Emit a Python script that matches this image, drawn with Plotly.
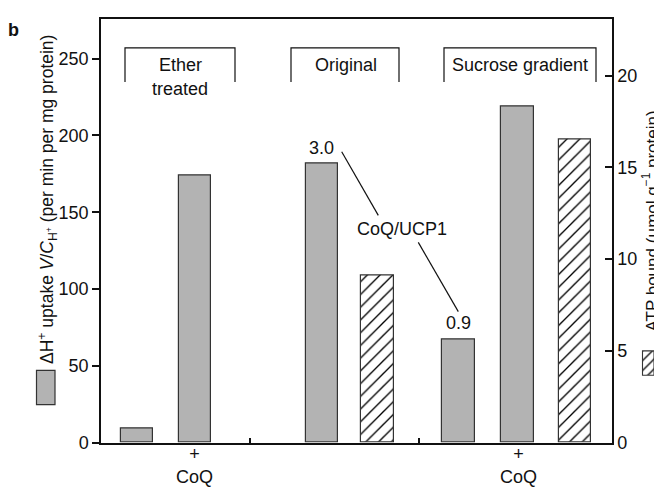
import plotly.graph_objects as go

# ---------------- data ----------------
uptake_labels = ["Ether −CoQ", "Ether +CoQ", "Original", "Sucrose −CoQ", "Sucrose +CoQ"]
uptake_values = [9.2, 174, 182, 67, 219]          # left axis
atp_labels = ["Original ATP", "Sucrose ATP"]
atp_values = [9.1, 16.5]                          # right axis
group_labels = ["Ether", "treated", "Original", "Sucrose gradient"]
ratio_labels = ["3.0", "CoQ/UCP1", "0.9"]
coq_labels = ["+", "CoQ"]
left_ticks = [0, 50, 100, 150, 200, 250]
right_ticks = [0, 5, 10, 15, 20]

# ---------------- layout helpers ----------------
XOFF = 8                         # horizontal page offset
W, H = 662 - XOFF, 488
def px(x):                       # screen pixel -> paper
    return (x - XOFF) / W
def py(y):
    return 1 - y / H

X0, X1 = 101, 612                # plot area in screen pixels
Y0, Y1 = 11.7, 443.7
bar_pos = {"Ether −CoQ": 36.2, "Ether +CoQ": 94, "Original": 221,
           "Original ATP": 276.7, "Sucrose −CoQ": 357.5,
           "Sucrose +CoQ": 416.5, "Sucrose ATP": 474}
BW = 32.5

INK = "#111111"
GRAY = "#b3b3b3"
FONT = "Liberation Sans, Arial, Helvetica, sans-serif"
FS = 18

fig = go.Figure()
fig.add_trace(go.Bar(
    x=[bar_pos[k] for k in uptake_labels], y=uptake_values, width=BW,
    marker=dict(color=GRAY, line=dict(color="#333333", width=1.2)),
    xaxis="x", yaxis="y", showlegend=False, hoverinfo="y"))
fig.add_trace(go.Bar(
    x=[bar_pos[k] for k in atp_labels], y=atp_values, width=BW,
    marker=dict(color="white", line=dict(color="#333333", width=1.2),
                pattern=dict(shape="/", fgcolor="#000000", bgcolor="white",
                             fgopacity=1, size=9, solidity=0.15)),
    xaxis="x", yaxis="y2", showlegend=False, hoverinfo="y"))
# small hatched legend box (right)
fig.add_trace(go.Bar(
    x=[0], y=[1], width=1,
    marker=dict(color="white", line=dict(width=0),
                pattern=dict(shape="/", fgcolor="#000000", bgcolor="white",
                             fgopacity=1, size=7, solidity=0.18)),
    xaxis="x3", yaxis="y3", showlegend=False, hoverinfo="skip"))

axis_line = dict(showline=True, linecolor=INK, linewidth=1.5, zeroline=False,
                 showgrid=False)
LB = (642.5, 654, 350, 375)      # hatched legend box (screen px)
fig.update_layout(
    width=W, height=H, margin=dict(l=0, r=0, t=0, b=0),
    plot_bgcolor="white", paper_bgcolor="white",
    font=dict(family=FONT, size=FS, color=INK),
    bargap=0,
    xaxis=dict(domain=[px(X0), px(X1)], range=[0, X1 - X0], mirror=True,
               ticks="inside", tickvals=[149, 318], ticklen=5, tickwidth=1.5,
               tickcolor=INK, showticklabels=False, **axis_line),
    yaxis=dict(domain=[py(Y1), py(Y0)], range=[0, 275.5], ticks="outside",
               tickvals=left_ticks, ticklen=7, tickwidth=1.5, tickcolor=INK,
               tickfont=dict(size=FS), **axis_line),
    yaxis2=dict(overlaying="y", side="right", range=[0, 23.06], ticks="inside",
                tickvals=right_ticks, ticklen=7, tickwidth=1.5, tickcolor=INK,
                tickfont=dict(size=FS), **axis_line),
    xaxis3=dict(domain=[px(LB[0]), px(LB[1])], range=[-0.5, 0.5], visible=False),
    yaxis3=dict(domain=[py(LB[3]), py(LB[2])], range=[0, 1], visible=False,
                anchor="x3"),
)

shapes = []
# brackets
for (l, r) in [(125, 235), (291, 399), (444, 596)]:
    shapes.append(dict(type="path", xref="paper", yref="paper",
                       path=f"M {px(l)},{py(75.5)} L {px(l)},{py(40.7)} "
                            f"L {px(r)},{py(40.7)} L {px(r)},{py(75.5)}",
                       line=dict(color=INK, width=1.2)))
# connector lines
for (xa, ya, xb, yb) in [(341.7, 146.7, 378.3, 211.7), (418.3, 239.3, 458.3, 310)]:
    shapes.append(dict(type="line", xref="paper", yref="paper",
                       x0=px(xa), y0=py(ya), x1=px(xb), y1=py(yb),
                       line=dict(color=INK, width=1.2)))
# gray legend box (left)
shapes.append(dict(type="rect", xref="paper", yref="paper",
                   x0=px(36.5), x1=px(55), y0=py(405), y1=py(370),
                   fillcolor=GRAY, line=dict(color="#333333", width=1.2)))
# outline of hatched legend box (right)
shapes.append(dict(type="rect", xref="paper", yref="paper",
                   x0=px(LB[0]), x1=px(LB[1]), y0=py(LB[3]), y1=py(LB[2]),
                   line=dict(color="#333333", width=1.1)))
fig.update_layout(shapes=shapes)

ann = []
def text(t, x, y, size=FS, **kw):
    ann.append(dict(text=t, x=px(x), y=py(y), xref="paper", yref="paper",
                    showarrow=False, xanchor="center", yanchor="middle",
                    font=dict(size=size, color=INK, family=FONT), **kw))

text(group_labels[0], 180, 58.6)
text(group_labels[1], 180, 82.5)
text(group_labels[2], 345.7, 58.6)
text(group_labels[3], 519.6, 58.6)
text(ratio_labels[0], 321.7, 142.7)
text(ratio_labels[1], 401.7, 226)
text(ratio_labels[2], 458.3, 321.7)
for cx in (194.6, 518):
    text("<br>".join(coq_labels), cx, 467)
text("<b>b</b>", 13, 22, size=18)
text("ΔH<sup>+</sup> uptake <i>V</i>/<i>C</i><sub>H<sup>+</sup></sub> "
     "(per min per mg protein)", 48, 196, size=17.5, textangle=-90)
text("ATP bound (μmol g<sup>−1</sup> protein)", 650, 218, size=17,
     textangle=-90)
fig.update_layout(annotations=ann)

fig.write_html("out.html")
